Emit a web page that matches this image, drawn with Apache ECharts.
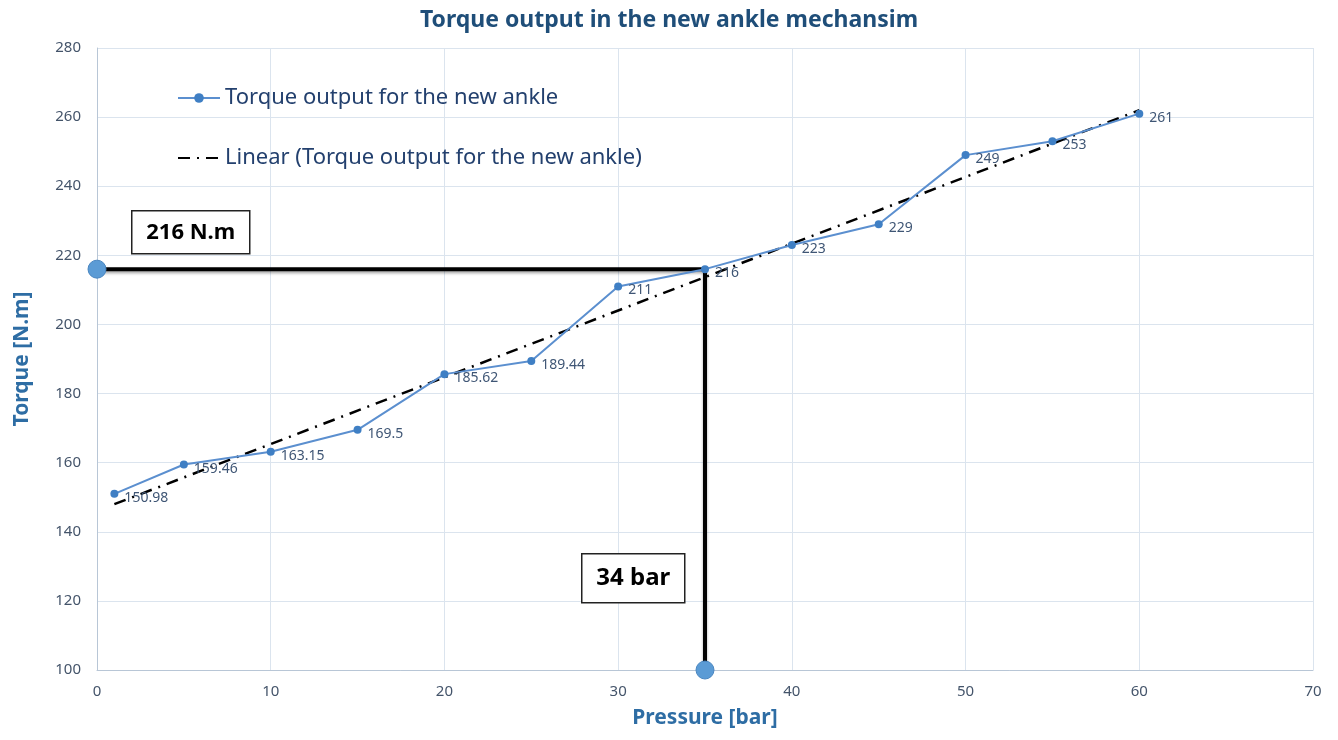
<!DOCTYPE html>
<html>
<head>
<meta charset="utf-8">
<script src="https://cdn.jsdelivr.net/npm/echarts@6/dist/echarts.min.js"></script>
<style>
  html, body { margin: 0; padding: 0; background: #fff; }
  #app { width: 1338px; height: 740px; }
</style>
</head>
<body>
<div id="app"></div>
<script>
// measured values
var pressure = [1, 5, 10, 15, 20, 25, 30, 35, 40, 45, 50, 55, 60];
var torque = [150.98, 159.46, 163.15, 169.5, 185.62, 189.44, 211, 216, 223, 229, 249, 253, 261];
// trend line end points
var trendX = [1, 60];
var trendY = [148, 262];
// marker lines for the 216 N.m reading
var guideX = [0, 35, 35];
var guideY = [216, 216, 100];
var guideDotX = [0, 35];
var guideDotY = [216, 100];

var seriesName = "Torque output for the new ankle";
var trendName = "Linear (Torque output for the new ankle)";

var font = "Noto Sans";
var chartDom = document.getElementById("app");
var myChart = echarts.init(chartDom);

function pairs(xs, ys) {
  return xs.map(function (x, i) { return [x, ys[i]]; });
}

// small labelled box, drawn on top of everything
function noteBox(left, top, w, h, text, size) {
  return {
    type: "group",
    left: left,
    top: top,
    z: 100,
    children: [
      { type: "rect", z: 100, shape: { x: 0, y: 0, width: w, height: h }, style: { fill: "#fff", stroke: "#222", lineWidth: 1.5 } },
      { type: "text", z: 101, x: w / 2, y: h / 2, style: { text: text, fontSize: size, fontWeight: "bold", fill: "#000", align: "center", verticalAlign: "middle", fontFamily: font } }
    ]
  };
}

var option = {
  animation: false,
  textStyle: { fontFamily: font },
  title: {
    text: "Torque output in the new ankle mechansim",
    left: "center",
    top: 4,
    textStyle: { fontSize: 23, fontWeight: "bold", color: "#1f4e79", fontFamily: font }
  },
  grid: { left: 97, right: 25, top: 48, bottom: 70 },
  legend: {
    data: [seriesName, { name: trendName, itemStyle: { opacity: 0 } }],
    orient: "vertical",
    left: 172,
    top: 82,
    itemGap: 38,
    itemWidth: 42,
    itemHeight: 12,
    textStyle: { fontSize: 22, color: "#23406e", fontFamily: font }
  },
  xAxis: {
    type: "value",
    min: 0,
    max: 70,
    interval: 10,
    name: "Pressure [bar]",
    nameLocation: "middle",
    nameGap: 38,
    nameTextStyle: { fontSize: 21, fontWeight: "bold", color: "#2e6da4", fontFamily: font },
    axisLine: { show: true, lineStyle: { color: "#b8c6d6" } },
    axisTick: { show: false },
    axisLabel: { fontSize: 15, color: "#44546a", margin: 14 },
    splitLine: { show: true, lineStyle: { color: "#dbe4ee" } }
  },
  yAxis: {
    type: "value",
    min: 100,
    max: 280,
    interval: 20,
    name: "Torque [N.m]",
    nameLocation: "middle",
    nameGap: 64,
    nameTextStyle: { fontSize: 21, fontWeight: "bold", color: "#2e6da4", fontFamily: font },
    axisLine: { show: true, lineStyle: { color: "#b8c6d6" } },
    axisTick: { show: false },
    axisLabel: { fontSize: 15, color: "#44546a", margin: 16 },
    splitLine: { show: true, lineStyle: { color: "#dbe4ee" } }
  },
  series: [
    {
      name: "guide",
      type: "line",
      data: pairs(guideX, guideY),
      symbol: "none",
      clip: false,
      z: 1,
      lineStyle: { color: "#000", width: 4, shadowColor: "rgba(0,0,0,0.35)", shadowBlur: 3, shadowOffsetY: 2 },
      silent: true
    },
    {
      name: "guideDots",
      type: "scatter",
      data: pairs(guideDotX, guideDotY),
      symbolSize: 18,
      clip: false,
      z: 5,
      itemStyle: { color: "#5b9bd5", borderColor: "#4a86c0", borderWidth: 1, opacity: 1 },
      silent: true
    },
    {
      name: trendName,
      type: "line",
      data: pairs(trendX, trendY),
      symbol: "none",
      z: 3,
      lineStyle: { color: "#000", width: 2.5, type: [12, 7, 2, 7] },
      itemStyle: { color: "#000" }
    },
    {
      name: seriesName,
      type: "line",
      data: pairs(pressure, torque),
      symbol: "circle",
      symbolSize: 8,
      z: 4,
      lineStyle: { color: "#5b8fcf", width: 2 },
      itemStyle: { color: "#3f7fc4" },
      label: {
        show: true,
        position: "right",
        distance: 6,
        offset: [0, 4],
        fontSize: 14,
        color: "#3f5675",
        formatter: function (p) { return p.value[1]; }
      }
    }
  ],
  graphic: [
    noteBox(131, 210, 118, 43, "216 N.m", 22),
    noteBox(581, 553, 103, 49, "34 bar", 24)
  ]
};

option && myChart.setOption(option);
</script>
</body>
</html>
